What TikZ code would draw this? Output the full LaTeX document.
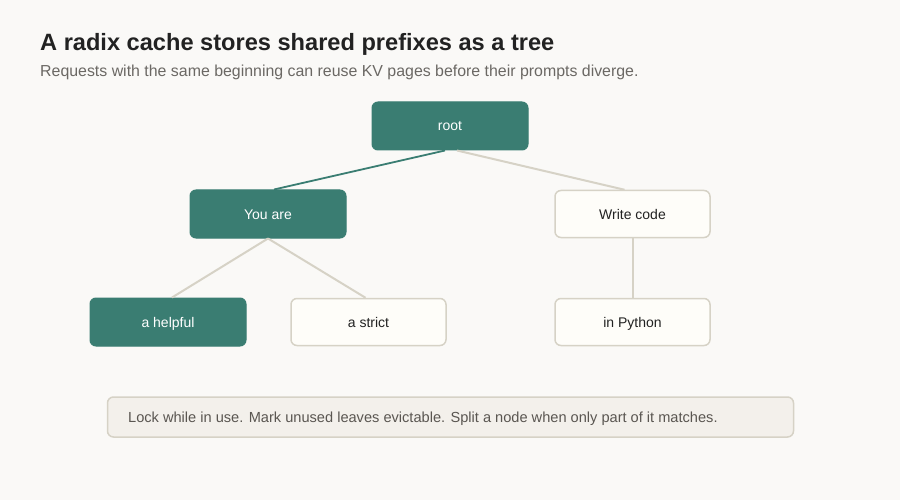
\documentclass[tikz,border=0pt]{standalone}
\usepackage{fontspec}
\setmainfont{Liberation Sans}
\definecolor{bg}{HTML}{FAF9F7}
\definecolor{teal}{HTML}{3A7D72}
\definecolor{beige}{HTML}{D6D2C6}
\definecolor{paper}{HTML}{FEFDF9}
\definecolor{notefill}{HTML}{F3F0EB}
\definecolor{titlec}{HTML}{222222}
\definecolor{subc}{HTML}{6B6864}
\definecolor{notec}{HTML}{5A5651}
\begin{document}
\begin{tikzpicture}[x=1pt,y=-1pt,
  hot/.style={draw=teal,fill=teal,line width=1pt,rounded corners=6pt,minimum width=156pt,minimum height=48pt,inner sep=0pt,text height=12pt,text depth=2pt,text=white,font=\fontsize{14}{16}\selectfont},
  cold/.style={draw=beige,fill=paper,line width=1.5pt,rounded corners=6pt,minimum width=155pt,minimum height=47pt,inner sep=0pt,text height=12pt,text depth=2pt,text=titlec,font=\fontsize{14}{16}\selectfont},
  hotedge/.style={draw=teal,line width=1.8pt},
  coldedge/.style={draw=beige,line width=2pt}]
\useasboundingbox[fill=bg] (0,0) rectangle (900,500);
\node[anchor=base west,text=titlec,font=\fontsize{23.6}{28}\selectfont\bfseries,inner sep=0pt] (title) at (40,50.5) {A radix cache stores shared prefixes as a tree};
\node[anchor=base west,text=subc,font=\fontsize{15.9}{19}\selectfont,inner sep=0pt] (sub) at (40,77) {Requests with the same beginning can reuse KV pages before their prompts diverge.};
\node[hot] (root) at (450,126) {root};
\node[hot] (you) at (268,214) {You are};
\node[cold] (write) at (632.5,214) {Write code};
\node[hot] (helpful) at (168,322) {a helpful};
\node[cold] (strict) at (368.5,322) {a strict};
\node[cold] (python) at (632.5,322) {in Python};
\draw[hotedge] ([xshift=-5pt]root.south) -- ([xshift=6pt]you.north);
\draw[coldedge] ([xshift=7pt]root.south) -- ([xshift=-8pt]write.north);
\draw[coldedge] (you.south) -- ([xshift=4pt]helpful.north);
\draw[coldedge] (you.south) -- ([xshift=-3pt]strict.north);
\draw[coldedge] (write.south) -- (python.north);
\node[draw=beige,fill=notefill,line width=1.5pt,rounded corners=6pt,minimum width=686pt,minimum height=40pt,inner sep=0pt] (note) at (450.5,417) {};
\node[anchor=base west,text=notec,font=\fontsize{14.6}{17}\selectfont,inner sep=0pt] (notetext) at (128,422.5) {Lock while in use. Mark unused leaves evictable. Split a node when only part of it matches.};
\end{tikzpicture}
\end{document}
